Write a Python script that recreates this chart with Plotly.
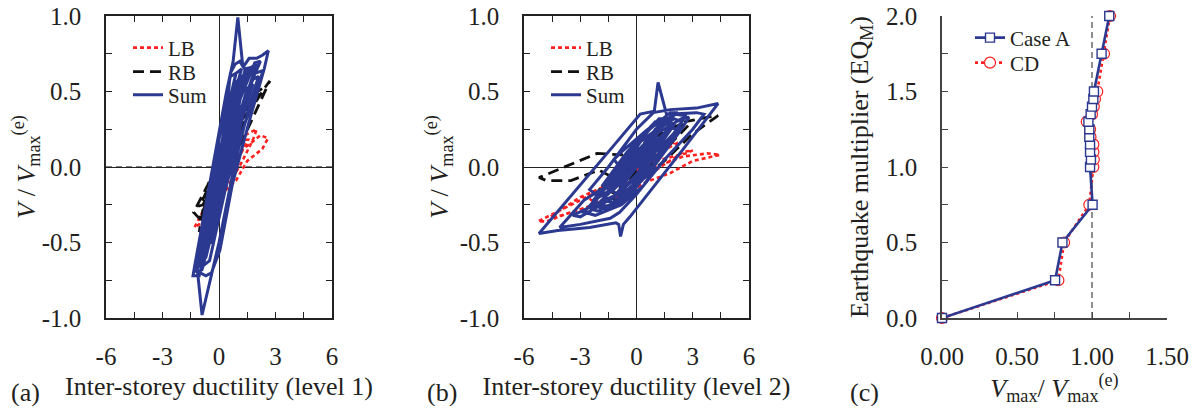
import plotly.graph_objects as go

# ---------------- data ----------------
# Panel (a): level 1 hysteresis
A_LB_X = [0.00, 0.30, 0.60, 0.40, -0.20, -0.60, -0.40, 0.30, 0.80, 1.00, 0.80, 0.00, -0.80, -1.30, -1.05, -0.30,
          0.50, 1.20, 1.70, 2.00, 1.80, 1.20, 0.60, 0.00, -0.70, -0.40, 0.40, 1.30, 2.20, 2.60, 2.30, 1.50,
          0.90, 0.30, -0.20, 0.40, 1.00, 1.55, 1.00, 0.40, 0.00]
A_LB_Y = [0.00, 0.16, 0.32, 0.25, -0.02, -0.22, -0.18, 0.14, 0.42, 0.52, 0.45, 0.08, -0.28, -0.40, -0.38, -0.12,
          0.10, 0.20, 0.23, 0.25, 0.18, 0.03, -0.10, -0.18, -0.30, -0.25, 0.00, 0.12, 0.21, 0.19, 0.12, 0.04,
          -0.09, -0.16, -0.15, 0.05, 0.18, 0.18, 0.05, -0.05, 0.00]

A_RB_X = [0.00, 0.40, 0.70, 0.45, -0.20, -0.60, -0.40, 0.30, 1.00, 0.75, 0.00, -0.80, -1.10, -0.85, 0.10,
          1.20, 1.70, 1.45, 0.40, -0.60, -1.35, -1.05, -0.20, 0.90, 2.00, 2.30, 2.05, 0.80, -0.30, -0.85,
          -1.05, -0.60, 0.40, 1.50, 2.70, 2.40, 1.20, 0.20, 0.00]
A_RB_Y = [0.00, 0.10, 0.17, 0.14, -0.03, -0.14, -0.12, 0.06, 0.26, 0.24, 0.04, -0.20, -0.26, -0.25, -0.02,
          0.30, 0.40, 0.40, 0.14, -0.12, -0.30, -0.34, -0.12, 0.18, 0.46, 0.52, 0.50, 0.22, -0.06, -0.28,
          -0.43, -0.36, -0.05, 0.25, 0.57, 0.52, 0.28, 0.06, 0.00]

A_SUM_X = [0.00, 0.35, 0.60, 0.40, -0.20, -0.55, -0.35, 0.20, 0.85, 0.60, -0.10, -0.75, -0.50, 0.30, 1.10,
           0.90, 0.10, -0.90, -0.65, 0.40, 1.30, 1.70, 1.40, 0.30, -0.60, -1.10, -0.80, 0.20, 1.20, 2.00,
           1.70, 0.60, -0.20, -1.20, -0.90, 0.00, 0.80, 1.60, 2.10, 1.80, 0.60, -0.50, -1.05, -1.38,
           -1.30, -0.40, 0.40, 0.75, 1.00, 1.27, 1.60, 2.00, 2.30, 2.62, 2.40, 1.60, 0.70, 0.05, -0.40,
           -0.70, -1.00, -0.60, 0.20, 0.60, 0.85, 1.10, 1.40, 1.90, 2.35, 2.10, 1.00, 0.00, -0.50, 0.00,
           0.70, 1.50, 1.20, 0.20, -0.80, -1.20, -0.90, 0.10, 1.00, 1.90, 1.60, 0.50, -0.40, -0.20,
           0.50, 0.30, 0.00, 0.50, 1.20, 0.90, -0.10, -1.00, -0.70, 0.40, 1.50, 2.20, 1.90, 0.80,
           -0.30, -0.90, -0.50, 0.60, 1.40, 1.00, 0.00, 0.00,
           0.30, 0.90, 0.60, -0.40, -1.10, -0.80, 0.20, 1.20, 1.60, 1.30, 0.20, -0.70, -0.40, 0.70,
           1.80, 1.50, 0.40, 0.00]
A_SUM_Y = [0.00, 0.20, 0.33, 0.27, -0.05, -0.30, -0.24, 0.08, 0.48, 0.42, 0.02, -0.45, -0.40, 0.05, 0.58,
           0.56, 0.10, -0.55, -0.52, 0.02, 0.55, 0.66, 0.65, 0.15, -0.35, -0.66, -0.62, -0.15, 0.38, 0.68,
           0.66, 0.30, -0.10, -0.62, -0.98, -0.50, 0.00, 0.40, 0.60, 0.58, 0.20, -0.45, -0.72, -0.72,
           -0.66, -0.05, 0.50, 0.70, 0.99, 0.66, 0.72, 0.72, 0.74, 0.77, 0.65, 0.30, -0.12, -0.55, -0.70,
           -0.72, -0.70, -0.40, 0.10, 0.62, 0.68, 0.70, 0.64, 0.62, 0.64, 0.55, 0.15, -0.30, -0.45, -0.15,
           0.45, 0.62, 0.60, 0.12, -0.50, -0.70, -0.68, -0.20, 0.30, 0.64, 0.63, 0.25, -0.30, -0.25,
           0.05, 0.02, 0.00, 0.35, 0.65, 0.62, 0.00, -0.62, -0.60, -0.05, 0.50, 0.70, 0.69, 0.35,
           -0.30, -0.66, -0.62, 0.00, 0.40, 0.40, -0.10, 0.00,
           0.30, 0.62, 0.60, -0.10, -0.55, -0.55, 0.05, 0.55, 0.60, 0.58, 0.10, -0.50, -0.50, 0.10,
           0.55, 0.52, 0.05, 0.00]

# Panel (b): level 2 hysteresis
B_LB_X = [0.00, 0.50, 0.90, 0.60, -0.30, -0.90, -0.60, 0.40, 1.40, 1.10, 0.00, -1.40, -1.10, 0.00, 1.60,
          2.20, 1.90, 0.30, -1.50, -2.60, -2.20, -0.80, 0.80, 2.50, 3.00, 2.60, 1.00, -1.20, -3.00, -4.60,
          -4.00, -2.00, -0.80, 0.50, 1.80, 3.00, 4.45, 3.80, 2.50, 1.00, -1.00, -3.00, -5.25, -4.80, -3.50,
          -2.00, -0.50, 0.00, 0.00]
B_LB_Y = [0.00, 0.06, 0.10, 0.08, -0.04, -0.12, -0.10, 0.06, 0.16, 0.15, 0.02, -0.16, -0.18, -0.06, 0.12,
          0.16, 0.16, 0.04, -0.12, -0.20, -0.24, -0.18, -0.04, 0.10, 0.11, 0.09, 0.04, -0.10, -0.20, -0.33,
          -0.32, -0.24, -0.20, -0.10, -0.04, 0.04, 0.08, 0.09, 0.07, 0.00, -0.10, -0.22, -0.36, -0.36, -0.30,
          -0.25, -0.18, -0.08, 0.00]

B_RB_X = [0.00, 0.60, 1.00, 0.70, -0.30, -0.90, -0.60, 0.40, 1.50, 1.20, -0.10, -1.40, -1.10, 0.20, 1.80,
          2.30, 2.00, 0.50, -1.20, -2.10, -1.70, -0.80, -0.30, 1.00, 2.80, 2.50, 0.80, -0.80, -2.10, -3.50,
          -5.20, -4.80, -3.50, -2.00, -0.80, -0.90, -0.50, 0.50, 1.40, 3.00, 4.35, 3.80, 2.60, 1.00, 0.00,
          -0.60, 0.00]
B_RB_Y = [0.00, 0.10, 0.16, 0.14, -0.04, -0.14, -0.12, 0.04, 0.20, 0.20, 0.04, -0.16, -0.18, -0.04, 0.18,
          0.26, 0.27, 0.10, -0.10, -0.14, -0.18, -0.24, -0.15, 0.05, 0.28, 0.28, 0.18, 0.08, 0.09, 0.02,
          -0.07, -0.09, -0.09, -0.02, -0.10, -0.25, -0.18, -0.05, 0.03, 0.22, 0.34, 0.33, 0.30, 0.20, 0.08,
          -0.02, 0.00]

B_SUM_X = [0.00, 0.50, 0.90, 0.60, -0.30, -0.90, -0.60, 0.30, 1.30, 1.00, -0.20, -1.30, -1.00, 0.00, 1.50,
           1.80, 1.40, 0.00, -1.60, -2.00, -1.50, -0.20, 1.00, 2.00, 1.70, 0.30, -1.00, -2.30, -1.90, -0.60,
           0.60, 2.40, 2.80, 2.40, 0.80, -1.00, -2.80, -4.10, -3.00, -1.40, -0.90, 0.00, 1.50, 3.00, 3.60,
           3.20, 1.60, 1.15, 0.95, 0.20, -1.50, -3.20, -5.20, -4.20, -2.50, -1.10, -0.95, -0.85, -0.70, -0.35,
           0.80, 2.50, 4.35, 3.20, 1.80, 0.90, 0.00, -1.50, -2.50, -2.00, -0.50, 1.00, 0.50, -0.50, 0.00,
           0.80, 1.60, 1.20, -0.20, -1.60, -2.40, -1.80, -0.40, 0.80, 2.00, 2.60, 2.10, 0.60, -0.80,
           -1.20, -0.60, 0.50, 1.20, 0.40, -1.00, -1.80, -1.00, 0.00, -3.40, -3.00, -1.20, 0.00,
           1.00, 2.20, 1.80, 0.20, -1.20, -2.00, -1.40, 0.20, 1.60, 2.40, 2.00, 0.00, -1.50, -2.80,
           -2.20, -0.80, 0.40, 1.00, 0.00,
           0.50, 1.40, 1.00, -0.50, -1.80, -1.30, 0.00, 1.20, 2.20, 1.80, 0.20, -1.00, -2.20, -1.60,
           -0.30, 0.60, 0.00]
B_SUM_Y = [0.00, 0.12, 0.20, 0.16, 0.00, -0.12, -0.10, 0.08, 0.25, 0.24, 0.06, -0.16, -0.18, -0.05, 0.22,
           0.30, 0.28, 0.10, -0.18, -0.25, -0.26, -0.12, 0.10, 0.28, 0.30, 0.18, -0.02, -0.22, -0.28, -0.20,
           -0.05, 0.25, 0.33, 0.32, 0.20, -0.08, -0.22, -0.40, -0.38, -0.34, -0.30, -0.18, 0.05, 0.25, 0.35,
           0.36, 0.35, 0.56, 0.37, 0.35, 0.10, -0.15, -0.44, -0.42, -0.40, -0.37, -0.38, -0.46, -0.38, -0.33,
           -0.15, 0.12, 0.42, 0.39, 0.38, 0.36, 0.25, 0.00, -0.15, -0.20, -0.08, 0.15, 0.10, -0.05, 0.00,
           0.22, 0.32, 0.32, 0.12, -0.10, -0.28, -0.30, -0.20, 0.00, 0.20, 0.34, 0.35, 0.25, 0.10,
           0.05, -0.05, 0.05, 0.18, 0.20, -0.05, -0.22, -0.24, -0.12, -0.32, -0.33, -0.20, 0.00,
           0.25, 0.36, 0.36, 0.20, -0.05, -0.18, -0.22, -0.05, 0.15, 0.30, 0.32, 0.15, -0.12, -0.30,
           -0.32, -0.25, -0.12, 0.00, 0.00,
           0.18, 0.30, 0.30, 0.10, -0.12, -0.16, 0.00, 0.12, 0.25, 0.26, 0.08, -0.12, -0.26, -0.28,
           -0.15, 0.00, 0.00]

# Panel (c): peak base shear vs earthquake multiplier
EQ_MULT = [0.0, 0.25, 0.5, 0.75, 1.0, 1.05, 1.1, 1.15, 1.2, 1.25, 1.3, 1.35, 1.4, 1.45, 1.5, 1.75, 2.0]
CASE_A = [0.0, 0.754, 0.803, 1.004, 0.987, 0.993, 0.987, 0.987, 0.982, 0.982, 0.976, 0.991, 1.0, 1.009, 1.013, 1.064, 1.115]
CD = [0.0, 0.776, 0.814, 0.982, 1.009, 1.012, 1.009, 1.009, 0.99, 0.987, 0.965, 1.0, 1.012, 1.02, 1.035, 1.080, 1.12]
REF_RATIO = 1.0
REF_MULT = 1.0

# ---------------- styling ----------------
FONT = "Liberation Serif, Times New Roman, serif"
TXT = "#231F20"
BLUE = "#2B3990"
RED = "#FF2020"
BLACK = "#111111"
AX = "#222222"
# the page body adds an 8 px margin, so the figure is drawn 8 px in from the window edges
OFF = 8
FW, FH = 1197 - 2 * OFF, 415 - 2 * OFF - 1


def fx(p):  # window pixel column -> paper x
    return (p - OFF) / FW


def fy(p):  # window pixel row -> paper y
    return 1 - (p - OFF) / FH


fig = go.Figure()

LEG_POS = {}


def add_leg(name, x_px, y_px):
    LEG_POS[name] = (x_px, y_px)
    return name


def hyst(xs, ys, xa, ya, legs):
    specs = [("LB", dict(color=RED, width=2.6, dash="4px,3px")),
             ("RB", dict(color=BLACK, width=2.8, dash="11px,6px")),
             ("Sum", dict(color=BLUE, width=3.0))]
    for (name, line), x, y, lg in zip(specs, xs, ys, legs):
        fig.add_trace(go.Scatter(x=x, y=y, xaxis=xa, yaxis=ya, mode="lines", name=name,
                                 legend=lg, line=line))


hyst((A_LB_X, A_RB_X, A_SUM_X), (A_LB_Y, A_RB_Y, A_SUM_Y), "x", "y",
     [add_leg("legend", 133, 48), add_leg("legend2", 133, 72), add_leg("legend3", 133, 95)])
hyst((B_LB_X, B_RB_X, B_SUM_X), (B_LB_Y, B_RB_Y, B_SUM_Y), "x2", "y2",
     [add_leg("legend4", 551, 48), add_leg("legend5", 551, 72), add_leg("legend6", 551, 95)])

fig.add_trace(go.Scatter(x=CD, y=EQ_MULT, xaxis="x3", yaxis="y3", mode="lines+markers", name="CD",
                         legend=add_leg("legend8", 975, 63), cliponaxis=False,
                         line=dict(color=RED, width=2.6, dash="3px,3px"),
                         marker=dict(symbol="circle", size=11, color="white",
                                     line=dict(color=RED, width=1.2))))
fig.add_trace(go.Scatter(x=CASE_A, y=EQ_MULT, xaxis="x3", yaxis="y3", mode="lines+markers", name="Case A",
                         legend=add_leg("legend7", 975, 38), cliponaxis=False,
                         line=dict(color=BLUE, width=2.6),
                         marker=dict(symbol="square", size=9, color="white",
                                     line=dict(color=BLUE, width=1.4))))

fig.add_vline(x=REF_RATIO, xref="x3", line=dict(color="#555555", width=1.3, dash="6px,4px"), layer="below")
fig.add_hline(y=REF_MULT, yref="y3", line=dict(color="#555555", width=1.3, dash="6px,4px"), layer="below")

DUCT_MAJOR = [-6, -3, 0, 3, 6]
DUCT_MINOR = [-4.5, -1.5, 1.5, 4.5]
V_MAJOR = [-1.0, -0.5, 0.0, 0.5, 1.0]
V_MINOR = [-0.75, -0.25, 0.25, 0.75]
C_X_MAJOR = [0.0, 0.5, 1.0, 1.5]
C_X_MINOR = [0.25, 0.75, 1.25]
C_Y_MAJOR = [0.0, 0.5, 1.0, 1.5, 2.0]
C_Y_MINOR = [0.25, 0.75, 1.25, 1.75]

YDOM = [fy(318), fy(16)]
TICKFONT = dict(family=FONT, size=25, color=TXT)
TITLEFONT = dict(family=FONT, size=26, color=TXT)


def axis(dom, rng, major, minor, fmt, standoff, title, tstand, mirror, color, **kw):
    d = dict(domain=dom, range=rng, tickmode="array", tickvals=major,
             ticktext=[fmt.format(v) for v in major],
             ticks="inside", ticklen=6, tickwidth=1.3, tickcolor=color,
             minor=dict(tickmode="array", tickvals=minor, ticks="inside", ticklen=6,
                        tickwidth=1.3, tickcolor=color, showgrid=False),
             showline=True, linecolor=color, linewidth=1.5, mirror=mirror,
             showgrid=False, automargin=False, ticklabeloverflow="allow",
             tickfont=TICKFONT, ticklabelstandoff=standoff,
             title=dict(text=title, font=TITLEFONT, standoff=tstand))
    d.update(kw)
    return d


VTITLE = "<i>V</i> / <i>V</i><sub>max</sub><sup>(e)</sup>"
ZL = dict(zeroline=True, zerolinecolor=AX, zerolinewidth=1.2)

layout = dict(
    template="none",
    width=FW, height=FH, margin=dict(l=0, r=0, t=0, b=0),
    paper_bgcolor="white", plot_bgcolor="white",
    font=dict(family=FONT, color=TXT),
    xaxis=axis([fx(106), fx(332)], [-6, 6], DUCT_MAJOR, DUCT_MINOR, "{:.0f}", 15,
               "Inter-storey ductility (level 1)", 8, "ticks", AX, anchor="y", **ZL),
    yaxis=axis(YDOM, [-1, 1], V_MAJOR, V_MINOR, "{:.1f}", 18, VTITLE, 4, "ticks", AX, anchor="x", **ZL),
    xaxis2=axis([fx(524), fx(749)], [-6, 6], DUCT_MAJOR, DUCT_MINOR, "{:.0f}", 15,
                "Inter-storey ductility (level 2)", 8, "ticks", AX, anchor="y2", **ZL),
    yaxis2=axis(YDOM, [-1, 1], V_MAJOR, V_MINOR, "{:.1f}", 18, VTITLE, 4, "ticks", AX, anchor="x2", **ZL),
    xaxis3=axis([fx(942), fx(1167)], [0, 1.5], C_X_MAJOR, C_X_MINOR, "{:.2f}", 15,
                "<i>V</i><sub>max</sub>/ <i>V</i><sub>max</sub><sup>(e)</sup>", 12, False, "#444444",
                anchor="y3", zeroline=False),
    yaxis3=axis(YDOM, [0, 2], C_Y_MAJOR, C_Y_MINOR, "{:.1f}", 18,
                "Earthquake multiplier (EQ<sub>M</sub>)", 10, False, "#444444", anchor="x3", zeroline=False),
    showlegend=True,
)
for name, (xp, yp) in LEG_POS.items():
    layout[name] = dict(x=fx(xp - 5), y=fy(yp), xanchor="left", yanchor="middle",
                        bgcolor="rgba(0,0,0,0)", borderwidth=0,
                        font=dict(family=FONT, size=21, color=TXT))
fig.update_layout(**layout)

for lab, px in (("(a)", 25), ("(b)", 442), ("(c)", 864)):
    fig.add_annotation(text=lab, x=fx(px), y=fy(392), xref="paper", yref="paper",
                       xanchor="center", yanchor="middle", showarrow=False,
                       font=dict(family=FONT, size=26, color=TXT))

fig.write_html("out.html")
